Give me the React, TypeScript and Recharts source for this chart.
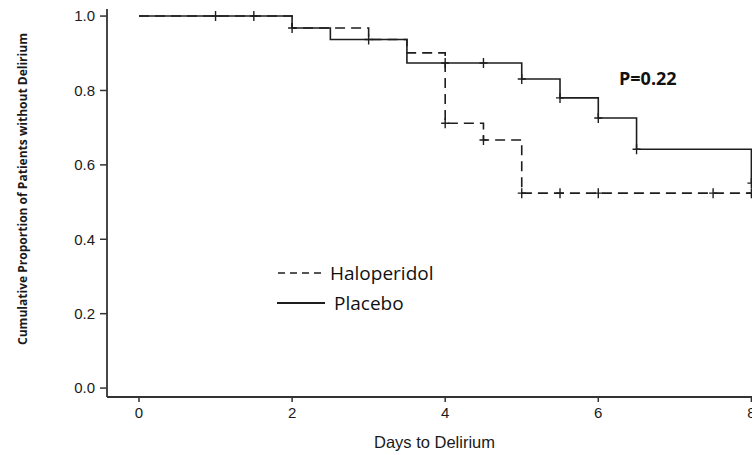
import { ComposedChart, Line, Scatter, XAxis, YAxis } from 'recharts';

// Kaplan-Meier steps: days and survival proportion after each event
const placeboDays = [0, 2, 2.5, 3.5, 5, 5.5, 6, 6.5, 8];
const placeboSurv = [1.0, 0.968, 0.937, 0.874, 0.831, 0.78, 0.726, 0.642, 0.551];
const haloDays = [0, 2, 3, 3.5, 4, 4.5, 5, 8];
const haloSurv = [1.0, 0.968, 0.937, 0.901, 0.712, 0.667, 0.524, 0.524];

// censored observations (+)
const placeboCensorDays = [1, 1.5, 2, 3, 4, 4.5, 5, 5.5, 6, 6.5, 8];
const placeboCensorSurv = [1.0, 1.0, 0.968, 0.937, 0.874, 0.874, 0.831, 0.78, 0.726, 0.642, 0.551];
const haloCensorDays = [4, 4.5, 5, 5.5, 6, 7.5, 8];
const haloCensorSurv = [0.712, 0.667, 0.524, 0.524, 0.524, 0.524, 0.524];

const xTicks = [0, 2, 4, 6, 8];
const yTicks = [0, 0.2, 0.4, 0.6, 0.8, 1.0];

const zip = (t: number[], s: number[]) => t.map((v, i) => ({ t: v, s: s[i] }));
const placeboData = zip(placeboDays, placeboSurv);
const haloData = zip(haloDays, haloSurv);
const placeboCensors = zip(placeboCensorDays, placeboCensorSurv);
const haloCensors = zip(haloCensorDays, haloCensorSurv);

const INK = '#1e1e1e';
const AXIS = '#333';
const tickFont = { fill: '#1a1a1a', fontSize: 15, fontFamily: "'Liberation Sans', Arial, sans-serif" };

const CensorMark = (props: any) => {
  const { cx, cy } = props;
  if (cx == null || cy == null) return null;
  return (
    <path d={`M${cx - 4},${cy}H${cx + 4}M${cx},${cy - 5}V${cy + 5}`} stroke={INK} strokeWidth={1.4} fill="none" />
  );
};

const YTitle = () => (
  <text
    x={22}
    y={189}
    transform="rotate(-90 22 189)"
    textAnchor="middle"
    dominantBaseline="central"
    fontFamily="'Open Sans', 'Noto Sans', sans-serif"
    fontWeight={700}
    fontSize={12.5}
    fill="#1a1a1a"
    textLength={312}
    lengthAdjust="spacingAndGlyphs"
  >
    Cumulative Proportion of Patients without Delirium
  </text>
);

export default function App() {
  return (
    <div style={{ position: 'fixed', left: 0, top: 0, width: 752, height: 455, overflow: 'hidden', background: '#fff' }}>
      <div style={{ position: 'relative', width: 792, height: 455 }}>
        <ComposedChart width={792} height={455} margin={{ top: 9, right: 10, bottom: 0, left: 0 }}>
          <XAxis
            dataKey="t"
            type="number"
            domain={[-0.418, 8.4]}
            ticks={xTicks}
            allowDataOverflow
            height={58}
            tickSize={5}
            tickMargin={5}
            tick={tickFont}
            axisLine={{ stroke: AXIS, strokeWidth: 1.8 }}
            tickLine={{ stroke: AXIS, strokeWidth: 1.5 }}
            label={{
              value: 'Days to Delirium',
              position: 'insideBottom',
              offset: 7,
              dx: -10,
              fill: '#1a1a1a',
              fontSize: 16.5,
              fontFamily: "'Liberation Sans', Arial, sans-serif",
            }}
          />
          <XAxis
            xAxisId="top"
            orientation="top"
            type="number"
            domain={[-0.418, 8.4]}
            height={0}
            tick={false}
            tickLine={false}
            axisLine={{ stroke: AXIS, strokeWidth: 1.8 }}
          />
          <YAxis
            dataKey="s"
            type="number"
            domain={[-0.024, 1.019]}
            ticks={yTicks}
            allowDataOverflow
            width={107}
            tickSize={7}
            tickMargin={5}
            tick={tickFont}
            tickFormatter={(v) => (v as number).toFixed(1)}
            axisLine={{ stroke: AXIS, strokeWidth: 1.8 }}
            tickLine={{ stroke: AXIS, strokeWidth: 1.5 }}
            label={{ content: () => <YTitle /> }}
          />
          <Line
            data={haloData}
            dataKey="s"
            type="stepAfter"
            stroke={INK}
            strokeWidth={1.6}
            strokeDasharray="10 6"
            dot={false}
            activeDot={false}
            isAnimationActive={false}
          />
          <Line
            data={placeboData}
            dataKey="s"
            type="stepAfter"
            stroke={INK}
            strokeWidth={1.6}
            dot={false}
            activeDot={false}
            isAnimationActive={false}
          />
          <Scatter data={haloCensors} dataKey="s" shape={CensorMark} isAnimationActive={false} />
          <Scatter data={placeboCensors} dataKey="s" shape={CensorMark} isAnimationActive={false} />
        </ComposedChart>

        <div
          style={{
            position: 'absolute', left: 619, top: 66, fontFamily: "'Open Sans', sans-serif",
            fontWeight: 700, fontSize: 18, lineHeight: '24px', color: '#111',
          }}
        >
          P=0.22
        </div>

        <div style={{ position: 'absolute', left: 276, top: 258, fontFamily: "'Open Sans', sans-serif", fontSize: 19, color: '#111' }}>
          <div style={{ display: 'flex', alignItems: 'center', height: 30 }}>
            <svg width={50} height={10}>
              <line x1={2} y1={5} x2={46} y2={5} stroke={INK} strokeWidth={1.6} strokeDasharray="7 5" />
            </svg>
            <span style={{ marginLeft: 4 }}>Haloperidol</span>
          </div>
          <div style={{ display: 'flex', alignItems: 'center', height: 29 }}>
            <svg width={50} height={10}>
              <line x1={1} y1={5} x2={49} y2={5} stroke={INK} strokeWidth={1.8} />
            </svg>
            <span style={{ marginLeft: 8 }}>Placebo</span>
          </div>
        </div>
      </div>
    </div>
  );
}
